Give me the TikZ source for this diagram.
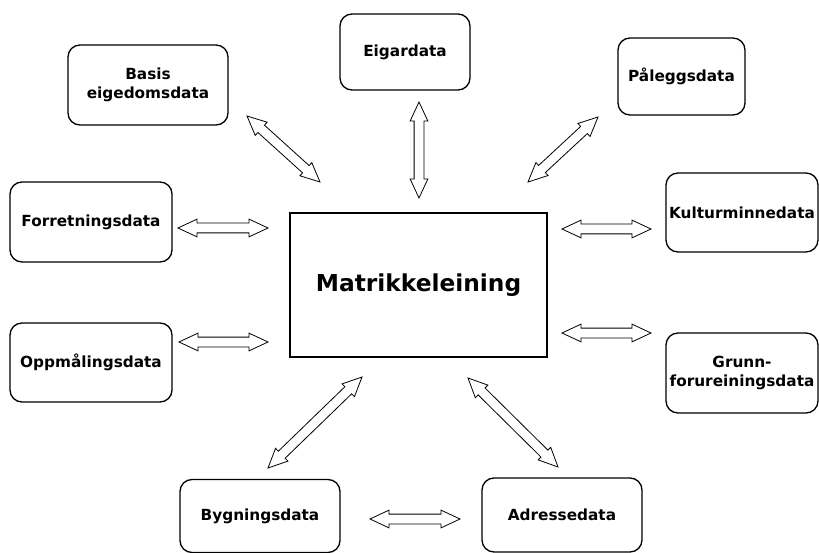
\documentclass[tikz,border=0pt]{standalone}
\usepackage{fontspec}
\setmainfont{DejaVu Sans}
\usetikzlibrary{shapes.arrows, calc}
\tikzset{
	box/.style={draw, line width=1.3pt, rounded corners=12pt, align=center, inner sep=1pt, minimum width=160pt, minimum height=80pt, font=\bfseries\fontsize{15.3}{19}\selectfont}, % the outer boxes
	mainbox/.style={draw, line width=1.3pt, minimum width=257pt, minimum height=144pt, font=\bfseries\fontsize{23.3}{27}\selectfont}, % the box in the middle
	link/.style={to path={let \p1=(\tikztostart), \p2=(\tikztotarget), \n1={atan2(\y2-\y1,\x2-\x1)}, \n2={veclen(\x2-\x1,\y2-\y1)} in
		node[double arrow, draw, line width=0.8pt, inner xsep=0pt, inner ysep=4.5pt, double arrow head extend=4pt, double arrow tip angle=50, minimum height=\n2, rotate=\n1] at ($(\p1)!.5!(\p2)$) {}}}, % hollow arrow with a head at both ends
}
\begin{document}
\begin{tikzpicture}[x=1pt, y=-1pt]
	\useasboundingbox (0,0) rectangle (819,553);
	\node[mainbox] (mid) at (418.5,285) {Matrikkeleining};
	\node[box, minimum width=130pt, minimum height=76pt] (eigar) at (405,52) {Eigardata};
	\node[box] (basis) at (148,85) {Basis\\eigedomsdata};
	\node[box, minimum width=127pt, minimum height=77pt] (paalegg) at (681.5,76.5) {Påleggsdata};
	\node[box, minimum width=162pt] (forret) at (91,222) {Forretningsdata};
	\node[box, minimum width=152pt, minimum height=79pt] (kultur) at (742,212.5) {Kulturminnedata};
	\node[box, minimum width=162pt, minimum height=79pt] (oppmaal) at (91,362.5) {Oppmålingsdata};
	\node[box, minimum width=152pt] (grunn) at (742,373) {Grunn-\\forureiningsdata};
	\node[box, minimum height=73pt] (bygning) at (260,516) {Bygningsdata};
	\node[box, minimum height=74pt] (adresse) at (562,515) {Adressedata};
	% free ends of the arrows
	\coordinate (basis-a) at (247,116);   \coordinate (basis-b) at (320,182);
	\coordinate (eigar-a) at (419,102);   \coordinate (eigar-b) at (419,198);
	\coordinate (paalegg-a) at (598,117); \coordinate (paalegg-b) at (528,182);
	\coordinate (forret-a) at (178,228);  \coordinate (forret-b) at (268,228);
	\coordinate (kultur-a) at (651,229);  \coordinate (kultur-b) at (562,229);
	\coordinate (oppmaal-a) at (179,342); \coordinate (oppmaal-b) at (268,342);
	\coordinate (grunn-a) at (651,333);   \coordinate (grunn-b) at (562,333);
	\coordinate (bygning-a) at (268,468); \coordinate (bygning-b) at (362,377);
	\coordinate (adresse-a) at (558,467); \coordinate (adresse-b) at (468,378);
	\coordinate (bygadr-a) at (370,519);  \coordinate (bygadr-b) at (460,519);
	\draw	(basis-a) to[link] (basis-b)
			(eigar-a) to[link] (eigar-b)
			(paalegg-a) to[link] (paalegg-b)
			(forret-a) to[link] (forret-b)
			(kultur-a) to[link] (kultur-b)
			(oppmaal-a) to[link] (oppmaal-b)
			(grunn-a) to[link] (grunn-b)
			(bygning-a) to[link] (bygning-b)
			(adresse-a) to[link] (adresse-b)
			(bygadr-a) to[link] (bygadr-b);
\end{tikzpicture}
\end{document}
